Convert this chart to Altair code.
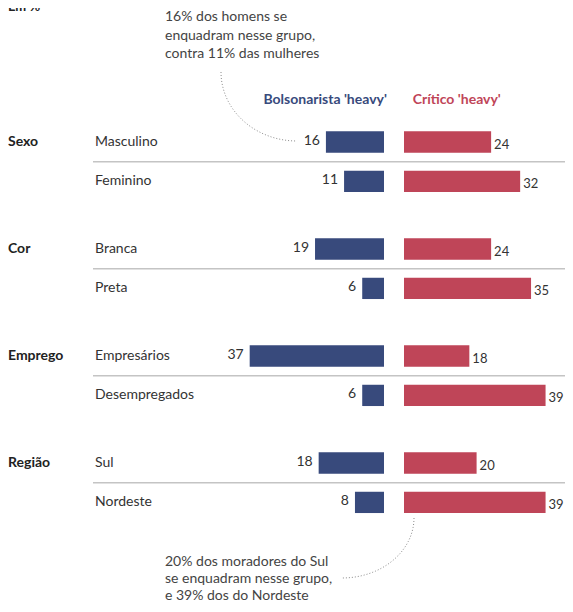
import altair as alt
import pandas as pd
import numpy as np

# ---- data ----
groups = ["Sexo", "Cor", "Emprego", "Região"]
categories = ["Masculino", "Feminino", "Branca", "Preta",
              "Empresários", "Desempregados", "Sul", "Nordeste"]
group_of = ["Sexo", "Sexo", "Cor", "Cor", "Emprego", "Emprego", "Região", "Região"]
bolsonarista = [16, 11, 19, 6, 37, 6, 18, 8]
critico = [24, 32, 24, 35, 18, 39, 20, 39]

series_names = ["Bolsonarista 'heavy'", "Crítico 'heavy'"]
note_top = ["16% dos homens se", "enquadram nesse grupo,", "contra 11% das mulheres"]
note_bottom = ["20% dos moradores do Sul", "se enquadram nesse grupo,", "e 39% dos do Nordeste"]
unit_label = "Em %"

# ---- layout constants ----
W, H = 557, 596
PX_PER_UNIT = 3.63
ZERO_PX = 376          # blue bars end here (chart px)
GAP = 20 / PX_PER_UNIT  # gap between blue and red bars, in units
ROW_PX = 39.4
FIRST_ROW_PX = 134
GROUP_STEP = 107 / ROW_PX

X_DOMAIN = [-ZERO_PX / PX_PER_UNIT, (W - ZERO_PX) / PX_PER_UNIT]
Y_DOMAIN = [-FIRST_ROW_PX / ROW_PX, (H - FIRST_ROW_PX) / ROW_PX]

BLUE = "#384a7c"
RED = "#bf4558"
FONT = "Lato"

idx_in_group = []
group_idx = []
for k, g in enumerate(group_of):
    group_idx.append(groups.index(g))
    idx_in_group.append(sum(1 for gg in group_of[:k] if gg == g))

df = pd.DataFrame({
    "categoria": categories,
    "grupo": group_of,
    "gi": group_idx,
    "ii": idx_in_group,
    "bolso": bolsonarista,
    "critico": critico,
})
df["slot"] = df["gi"] * GROUP_STEP + df["ii"]

xs = alt.Scale(domain=X_DOMAIN, nice=False, zero=False)
ys = alt.Scale(domain=Y_DOMAIN, nice=False, zero=False, reverse=True)

base = alt.Chart(df)

sep = base.transform_filter("datum.ii == 0").transform_calculate(
    ys_="datum.slot + 0.5"
).mark_rule(color="#c4c4c4", strokeWidth=1.5).encode(
    x=alt.value(85), x2=alt.value(W),
    y=alt.Y("ys_:Q", scale=ys, axis=None),
)

blue_bars = base.transform_calculate(
    x0="-datum.bolso", x1="0", y0="datum.slot - 0.27", y1="datum.slot + 0.27"
).mark_bar(color=BLUE).encode(
    x=alt.X("x0:Q", scale=xs, axis=None), x2="x1:Q",
    y=alt.Y("y0:Q", scale=ys, axis=None), y2="y1:Q",
)

red_bars = base.transform_calculate(
    x0=f"{GAP}", x1=f"{GAP} + datum.critico", y0="datum.slot - 0.27", y1="datum.slot + 0.27"
).mark_bar(color=RED).encode(
    x=alt.X("x0:Q", scale=xs, axis=None), x2="x1:Q",
    y=alt.Y("y0:Q", scale=ys, axis=None), y2="y1:Q",
)

blue_lbl = base.transform_calculate(xl="-datum.bolso").mark_text(
    align="right", baseline="middle", dx=-6, dy=-1, font=FONT, fontSize=14, color="#333333"
).encode(
    x=alt.X("xl:Q", scale=xs, axis=None),
    y=alt.Y("slot:Q", scale=ys, axis=None),
    text="bolso:Q",
)

red_lbl = base.transform_calculate(xl=f"{GAP} + datum.critico").mark_text(
    align="left", baseline="middle", dx=3, dy=3, font=FONT, fontSize=13, color="#333333"
).encode(
    x=alt.X("xl:Q", scale=xs, axis=None),
    y=alt.Y("slot:Q", scale=ys, axis=None),
    text="critico:Q",
)

cat_lbl = base.mark_text(
    align="left", baseline="middle", font=FONT, fontSize=14, color="#333333"
).encode(
    x=alt.value(87),
    y=alt.Y("slot:Q", scale=ys, axis=None),
    text="categoria:N",
)

grp_lbl = base.transform_filter("datum.ii == 0").mark_text(
    align="left", baseline="middle", font=FONT, fontSize=14, fontWeight="bold", color="#222222"
).encode(
    x=alt.value(0),
    y=alt.Y("slot:Q", scale=ys, axis=None),
    text="grupo:N",
)

hdr_df = pd.DataFrame({"nome": series_names, "xh": [0.8, GAP + 2.4]})
hdr_blue = alt.Chart(hdr_df.iloc[[0]]).mark_text(
    align="right", baseline="middle", font=FONT, fontSize=14, fontWeight="bold", color=BLUE
).encode(x=alt.X("xh:Q", scale=xs, axis=None), y=alt.value(92), text="nome:N")
hdr_red = alt.Chart(hdr_df.iloc[[1]]).mark_text(
    align="left", baseline="middle", font=FONT, fontSize=14, fontWeight="bold", color=RED
).encode(x=alt.X("xh:Q", scale=xs, axis=None), y=alt.value(92), text="nome:N")

note1 = alt.Chart(pd.DataFrame({"t": [note_top]})).mark_text(
    align="left", baseline="top", font=FONT, fontSize=14, color="#444444", lineHeight=18.5
).encode(x=alt.value(157), y=alt.value(2), text="t")

note2 = alt.Chart(pd.DataFrame({"t": [note_bottom]})).mark_text(
    align="left", baseline="top", font=FONT, fontSize=14, color="#444444", lineHeight=17
).encode(x=alt.value(157), y=alt.value(547), text="t")

em = alt.Chart(pd.DataFrame({"t": [unit_label]})).mark_text(
    align="left", baseline="alphabetic", font=FONT, fontSize=13, fontWeight="bold", color="#222222"
).encode(x=alt.value(0), y=alt.value(3), text="t")


# leader curves (quarter ellipses), expressed in the chart's own units
def px_to_x(px):
    return (px - ZERO_PX) / PX_PER_UNIT


def px_to_slot(py):
    return (py - FIRST_ROW_PX) / ROW_PX


t = np.linspace(0, np.pi / 2, 40)
# top: from below the note down to the "16" label
c1 = pd.DataFrame({
    "cx": px_to_x(289 - 76 * np.cos(t)),
    "cy": px_to_slot(64 + 69 * np.sin(t)),
    "k": np.arange(len(t)),
})
# bottom: from below the Nordeste red bar to the bottom note
c2 = pd.DataFrame({
    "cx": px_to_x(334 + 72 * np.cos(t)),
    "cy": px_to_slot(510 + 60 * np.sin(t)),
    "k": np.arange(len(t)),
})
curve1 = alt.Chart(c1).mark_line(color="#8a8a8a", strokeWidth=1, strokeDash=[1, 2]).encode(
    x=alt.X("cx:Q", scale=xs, axis=None), y=alt.Y("cy:Q", scale=ys, axis=None), order="k:Q")
curve2 = alt.Chart(c2).mark_line(color="#8a8a8a", strokeWidth=1, strokeDash=[1, 2]).encode(
    x=alt.X("cx:Q", scale=xs, axis=None), y=alt.Y("cy:Q", scale=ys, axis=None), order="k:Q")

chart = alt.layer(
    sep, blue_bars, red_bars, blue_lbl, red_lbl, cat_lbl, grp_lbl,
    hdr_blue, hdr_red, note1, note2, em, curve1, curve2,
).properties(
    width=W, height=H, padding=0,
    autosize=alt.AutoSizeParams(type="none"),
).configure_view(stroke=None)

chart.save("out.html", embed_options={"renderer": "svg", "actions": False})
